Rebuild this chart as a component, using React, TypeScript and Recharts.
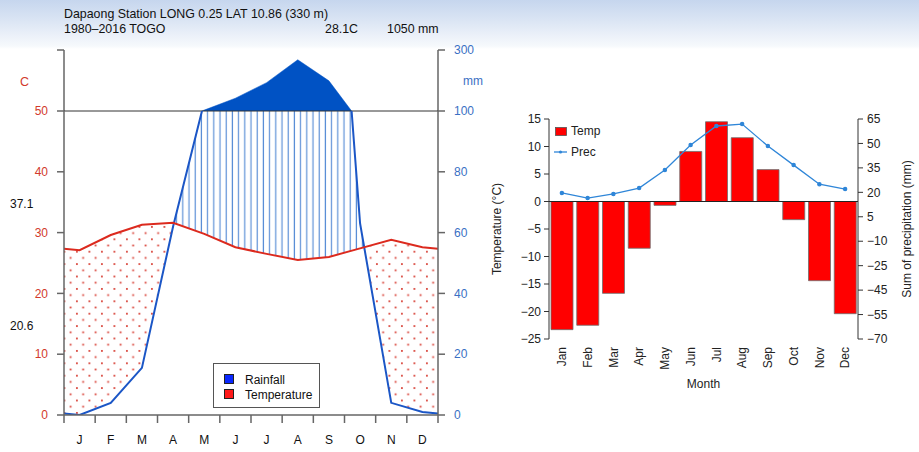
import React from "react";
import {
  ComposedChart,
  Line,
  Area,
  Bar,
  XAxis,
  YAxis,
  ReferenceLine,
} from "recharts";

// left panel: Walter-Lieth diagram, Dapaong
const monthLetters = ["J", "F", "M", "A", "M", "J", "J", "A", "S", "O", "N", "D"];
const meanTempC = [27.1, 29.6, 31.3, 31.6, 29.8, 27.6, 26.5, 25.5, 26.0, 27.4, 28.8, 27.6];
const rainMm = [0, 4, 15.5, 62, 103, 142, 193, 268, 199, 63, 4, 1];
const tempTicks = [0, 10, 20, 30, 40, 50];
const rainTicks = [0, 20, 40, 60, 80, 100];
const monthEdges = [0, 1, 2, 3, 4, 5, 6, 7, 8, 9, 10, 11, 12];
const monthMids = [0.5, 1.5, 2.5, 3.5, 4.5, 5.5, 6.5, 7.5, 8.5, 9.5, 10.5, 11.5];

// right panel: temperature bars + precipitation line
const monthNames = ["Jan", "Feb", "Mar", "Apr", "May", "Jun", "Jul", "Aug", "Sep", "Oct", "Nov", "Dec"];
const monthlyTemp = [-23.3, -22.5, -16.7, -8.5, -0.7, 9.1, 14.5, 11.6, 5.8, -3.3, -14.4, -20.4];
const monthlyPrec = [19.6, 16.5, 19, 22.6, 33.7, 49, 60.7, 61.9, 48.4, 36.7, 25, 22];
const tempAxisTicks = [15, 10, 5, 0, -5, -10, -15, -20, -25];
const precAxisTicks = [65, 50, 35, 20, 5, -10, -25, -40, -55, -70];
const precAxisLabels = ["65", "50", "35", "20", "5", "\u221210", "\u221225", "\u221245", "\u221255", "\u221270"];

const FONT = '"Liberation Sans", Arial, Helvetica, sans-serif';
const RED = "#dc2a1e";
const RED_TXT = "#d23a2c";
const BLUE = "#1b56c6";
const BLUE_TXT = "#3a70c4";
const AXIS = "#666";

type Row = { x: number; t: number; mm: number };

// month midpoints, plus the Dec/Jan mean at both edges
function climateRows(): Row[] {
  const edgeT = (meanTempC[0] + meanTempC[11]) / 2;
  const edgeR = (rainMm[0] + rainMm[11]) / 2;
  const rows: Row[] = [{ x: 0, t: edgeT, mm: edgeR }];
  meanTempC.forEach((t, i) => rows.push({ x: i + 0.5, t, mm: rainMm[i] }));
  rows.push({ x: 12, t: edgeT, mm: edgeR });
  return rows;
}

// add the points where the rain curve meets the temperature curve,
// so the dry / humid shading stops exactly on the crossing
function shadeRows(rows: Row[]) {
  const out: Row[] = [];
  const gap = (r: Row) => r.t - r.mm / 2;
  rows.forEach((r, i) => {
    if (i > 0) {
      const a = rows[i - 1];
      const ga = gap(a);
      const gb = gap(r);
      if (ga * gb < 0) {
        const f = ga / (ga - gb);
        const t = a.t + f * (r.t - a.t);
        out.push({ x: a.x + f * (r.x - a.x), t, mm: t * 2 });
      }
    }
    out.push(r);
  });
  return out.map((r) => ({
    ...r,
    dry: [Math.min(r.t, r.mm / 2), r.t],
    wet: [r.t, Math.max(r.t, r.mm / 2)],
  }));
}

const rows = climateRows();
const shaded = shadeRows(rows);

const rightRows = monthNames.map((m, i) => ({
  month: m,
  temp: monthlyTemp[i],
  prec: monthlyPrec[i],
}));

const minus = (v: number) => String(v).replace("-", "\u2212");

function MonthTick(props: any) {
  const { x, y, payload } = props;
  return (
    <text
      x={x}
      y={y}
      transform={`rotate(-90 ${x} ${y})`}
      textAnchor="end"
      dy="0.35em"
      fontSize={12}
      fill="#222"
      fontFamily={FONT}
    >
      {payload.value}
    </text>
  );
}

function ClimateTop() {
  return (
    <ComposedChart
      width={500}
      height={71}
      data={rows}
      margin={{ top: 10, right: 12, bottom: 0, left: 20 }}
    >
      <XAxis type="number" dataKey="x" domain={[0, 12]} hide allowDataOverflow />
      <YAxis
        yAxisId="t"
        type="number"
        domain={[0, 1]}
        ticks={[1]}
        tickFormatter={() => ""}
        width={44}
        tickSize={7}
        stroke={AXIS}
        strokeWidth={1.5}
        allowDataOverflow
      />
      <YAxis
        yAxisId="mm"
        orientation="right"
        type="number"
        domain={[100, 300]}
        ticks={[300]}
        interval={0}
        width={50}
        tickSize={7}
        tickMargin={9}
        stroke={AXIS}
        strokeWidth={1.5}
        tick={{ fill: BLUE_TXT, fontSize: 12, fontFamily: FONT }}
        allowDataOverflow
      />
      <Area
        yAxisId="mm"
        type="linear"
        dataKey="mm"
        baseValue={100}
        fill="#0052c4"
        fillOpacity={1}
        stroke="#0052c4"
        strokeWidth={0.5}
        isAnimationActive={false}
      />
    </ComposedChart>
  );
}

function ClimateMain() {
  return (
    <ComposedChart
      width={500}
      height={350}
      data={rows}
      margin={{ top: 10, right: 12, bottom: 0, left: 20 }}
    >
      <defs>
        <pattern id="dots" patternUnits="userSpaceOnUse" width={12.5} height={12.4}>
          <rect x={1} y={1} width={1.8} height={1.8} fill="#d9463c" />
          <rect x={7.25} y={7.2} width={1.8} height={1.8} fill="#d9463c" />
        </pattern>
        <pattern id="hatch" patternUnits="userSpaceOnUse" width={6.2} height={10}>
          <line x1={3} y1={0} x2={3} y2={10} stroke="#5a8ed6" strokeWidth={1.2} />
        </pattern>
      </defs>
      <XAxis
        xAxisId="a"
        type="number"
        dataKey="x"
        domain={[0, 12]}
        ticks={monthEdges}
        interval={0}
        tickFormatter={() => ""}
        tickSize={8}
        height={8}
        stroke={AXIS}
        strokeWidth={1.5}
        allowDataOverflow
      />
      <XAxis
        xAxisId="b"
        type="number"
        dataKey="x"
        domain={[0, 12]}
        ticks={monthMids}
        interval={0}
        tickFormatter={(v: number) => monthLetters[Math.floor(v)]}
        axisLine={false}
        tickLine={false}
        tickSize={0}
        tickMargin={12}
        height={28}
        tick={{ fill: "#111", fontSize: 12, fontFamily: FONT }}
        allowDataOverflow
      />
      <YAxis
        yAxisId="t"
        type="number"
        domain={[0, 50]}
        ticks={tempTicks}
        interval={0}
        width={44}
        tickSize={7}
        tickMargin={9}
        stroke={AXIS}
        strokeWidth={1.5}
        tick={{ fill: RED_TXT, fontSize: 12, fontFamily: FONT }}
        allowDataOverflow
      />
      <YAxis
        yAxisId="mm"
        orientation="right"
        type="number"
        domain={[0, 100]}
        ticks={rainTicks}
        interval={0}
        width={50}
        tickSize={7}
        tickMargin={9}
        stroke={AXIS}
        strokeWidth={1.5}
        tick={{ fill: BLUE_TXT, fontSize: 12, fontFamily: FONT }}
        allowDataOverflow
      />
      <Area
        xAxisId="a"
        yAxisId="t"
        data={shaded}
        type="linear"
        dataKey="dry"
        fill="url(#dots)"
        fillOpacity={1}
        stroke="none"
        isAnimationActive={false}
      />
      <Area
        xAxisId="a"
        yAxisId="t"
        data={shaded}
        type="linear"
        dataKey="wet"
        fill="url(#hatch)"
        fillOpacity={1}
        stroke="none"
        isAnimationActive={false}
      />
      <ReferenceLine xAxisId="a" yAxisId="t" y={50} stroke="#333" strokeWidth={1} />
      <Line
        xAxisId="a"
        yAxisId="mm"
        type="linear"
        dataKey="mm"
        stroke={BLUE}
        strokeWidth={2}
        dot={false}
        isAnimationActive={false}
      />
      <Line
        xAxisId="a"
        yAxisId="t"
        type="linear"
        dataKey="t"
        stroke={RED}
        strokeWidth={2}
        dot={false}
        isAnimationActive={false}
      />
    </ComposedChart>
  );
}

function MonthlyChart() {
  return (
    <ComposedChart
      width={439}
      height={300}
      data={rightRows}
      margin={{ top: 19, right: 6, bottom: 1, left: 5 }}
    >
      <XAxis
        dataKey="month"
        axisLine={false}
        tickLine={false}
        interval={0}
        height={60}
        tick={<MonthTick />}
        label={{
          value: "Month",
          position: "insideBottom",
          offset: 11,
          fill: "#222",
          fontSize: 12,
          fontFamily: FONT,
        }}
      />
      <YAxis
        yAxisId="temp"
        type="number"
        domain={[-25, 15]}
        ticks={tempAxisTicks}
        interval={0}
        width={64}
        tickSize={5}
        tickMargin={3}
        stroke="#333"
        tickFormatter={minus}
        tick={{ fill: "#222", fontSize: 12, fontFamily: FONT }}
        label={{
          value: "Temperature (\u00b0C)",
          angle: -90,
          position: "insideLeft",
          offset: 12,
          fill: "#222",
          fontSize: 12,
          fontFamily: FONT,
          style: { textAnchor: "middle" },
        }}
      />
      <YAxis
        yAxisId="prec"
        orientation="right"
        type="number"
        domain={[-70, 65]}
        ticks={precAxisTicks}
        interval={0}
        width={55}
        tickSize={5}
        tickMargin={4}
        stroke="#333"
        tickFormatter={(v: number) => precAxisLabels[precAxisTicks.indexOf(v)]}
        tick={{ fill: "#222", fontSize: 12, fontFamily: FONT }}
        label={{
          value: "Sum of precipitation (mm)",
          angle: -90,
          position: "insideRight",
          offset: 6,
          fill: "#222",
          fontSize: 12,
          fontFamily: FONT,
          style: { textAnchor: "middle" },
        }}
      />
      <ReferenceLine yAxisId="temp" y={0} stroke="#222" strokeWidth={1} />
      <Bar
        yAxisId="temp"
        dataKey="temp"
        fill="#ff0000"
        stroke="#6e6e6e"
        strokeWidth={0.8}
        barSize={22}
        isAnimationActive={false}
      />
      <Line
        yAxisId="prec"
        type="linear"
        dataKey="prec"
        stroke="#2f86d8"
        strokeWidth={1.3}
        dot={{ r: 1.6, fill: "#2f86d8", stroke: "#2f86d8" }}
        isAnimationActive={false}
      />
    </ComposedChart>
  );
}

export default function App() {
  const txt = { fontFamily: FONT, fontSize: 12 };
  return (
    <div
      style={{
        position: "absolute",
        left: 0,
        top: 0,
        width: 919,
        height: 452,
        overflow: "hidden",
        background:
          "linear-gradient(180deg, #c6d6ee 0px, #d8e3f3 18px, #ecf1f9 36px, #f6f9fc 46px, #ffffff 49px)",
      }}
    >
      <div style={{ position: "absolute", left: 0, top: 40 }}>
        <ClimateTop />
      </div>
      <div style={{ position: "absolute", left: 0, top: 101 }}>
        <ClimateMain />
      </div>
      <div style={{ position: "absolute", left: 480, top: 100 }}>
        <MonthlyChart />
      </div>
      <svg
        width={919}
        height={452}
        style={{ position: "absolute", left: 0, top: 0, pointerEvents: "none" }}
      >
        <g {...txt} fontSize={12.4} fill="#111">
          <text x={64} y={17.5}>Dapaong Station LONG 0.25 LAT 10.86 (330 m)</text>
          <text x={64} y={33}>1980&#8211;2016 TOGO</text>
          <text x={325} y={33}>28.1C</text>
          <text x={387} y={33}>1050 mm</text>
        </g>
        <text x={20} y={85.5} {...txt} fontSize={12.5} fill={RED_TXT}>C</text>
        <text x={463} y={84.5} {...txt} fill={BLUE_TXT}>mm</text>
        <text x={10} y={207.5} {...txt} fill="#111">37.1</text>
        <text x={10} y={329.5} {...txt} fill="#111">20.6</text>

        <rect x={213.5} y={363.5} width={106} height={44} fill="#fff" stroke="#555" />
        <rect x={224.5} y={374.5} width={9} height={9} fill="#0a28ff" stroke="#222" />
        <text x={245} y={383.5} {...txt} fill="#111">Rainfall</text>
        <rect x={224.5} y={389.5} width={9} height={9} fill="#ff1a1a" stroke="#222" />
        <text x={245} y={398.5} {...txt} fill="#111">Temperature</text>

        <rect x={555.5} y={127.5} width={11} height={8} fill="#ff0000" stroke="#555" strokeWidth={0.8} />
        <text x={571} y={135} {...txt} fill="#222">Temp</text>
        <line x1={554} y1={152} x2={567} y2={152} stroke="#2f86d8" strokeWidth={1.3} />
        <circle cx={560.5} cy={152} r={1.6} fill="#2f86d8" />
        <text x={571} y={156} {...txt} fill="#222">Prec</text>
      </svg>
    </div>
  );
}
